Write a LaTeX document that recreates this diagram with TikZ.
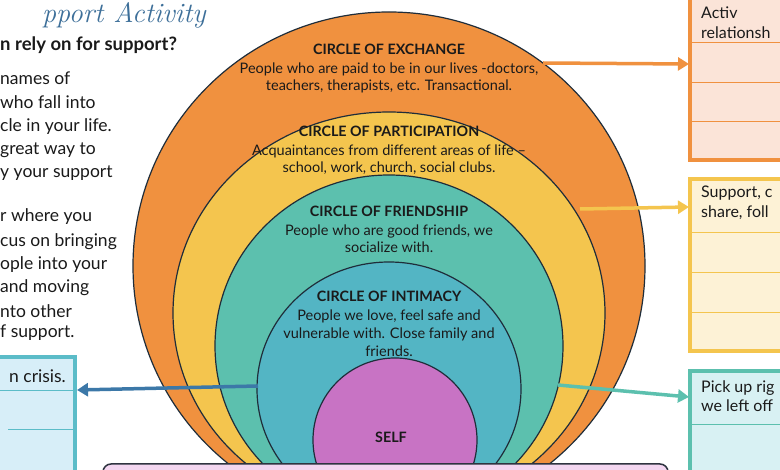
\documentclass[tikz,border=0pt]{standalone}
\usepackage{fontspec}
\setmainfont{Lato}
\newfontfamily\titlefont{Latin Modern Roman}
\usetikzlibrary{arrows.meta}
\definecolor{corange}{HTML}{F0913F}
\definecolor{cyellow}{HTML}{F4C54E}
\definecolor{cgreen}{HTML}{5CC0AE}
\definecolor{cblue}{HTML}{53B5C4}
\definecolor{cself}{HTML}{C873C4}
\definecolor{outline}{HTML}{1F2D3A}
\definecolor{barpink}{HTML}{F3D6F0}
\definecolor{bardark}{HTML}{2E3440}
\definecolor{obfill}{HTML}{FBE4D8}
\definecolor{ybfill}{HTML}{FDF2D6}
\definecolor{tbfill}{HTML}{D8F1F3}
\definecolor{lbteal}{HTML}{5BBCC8}
\definecolor{lbfill}{HTML}{D7EEF8}
\definecolor{arrblue}{HTML}{3C78A8}
\definecolor{titleblue}{HTML}{3D6F99}
\definecolor{ink}{HTML}{1A1A1A}
\tikzset{
  ring/.style={draw=outline, line width=1.2},
  ctitle/.style={font=\bfseries\fontsize{14.3}{16}\selectfont, text=ink, inner sep=0},
  cbody/.style={font=\fontsize{14.5}{17}\selectfont, text=ink, align=center, inner sep=0},
  boxtext/.style={font=\fontsize{16}{20}\selectfont, text=ink, anchor=west, inner sep=0},
  lefttext/.style={font=\fontsize{17.5}{23}\selectfont, text=ink, anchor=west, inner sep=0},
  arr/.style={line width=3.5, -{Triangle[length=11pt,width=13pt]}},
}
\begin{document}
\begin{tikzpicture}[x=1pt,y=-1pt]
\useasboundingbox (0,0) rectangle (780,470);
\fill[white] (0,0) rectangle (780,470);
\clip (0,0) rectangle (780,470);

% rings
\draw[ring, fill=corange] (389,266) ellipse [x radius=256, y radius=254];
\draw[ring, fill=cyellow] (389,313) ellipse [x radius=216, y radius=201];
\draw[ring, fill=cgreen] (389,346) ellipse [x radius=174, y radius=171];
\draw[ring, fill=cblue] (389,389) ellipse [x radius=132, y radius=127];
\draw[ring, fill=cself] (395,440) ellipse [x radius=82, y radius=82];

% bottom bar
\draw[fill=barpink, draw=bardark, line width=1.5, rounded corners=8] (103,464) rectangle (668,495);

% circle texts
\node[ctitle] (tex) at (389,49) {CIRCLE OF EXCHANGE};
\node[cbody] (bex) at (389,77.5) {People who are paid to be in our lives -doctors,\\teachers, therapists, etc. Transactional.};
\node[ctitle] (tpa) at (389,131) {CIRCLE OF PARTICIPATION};
\node[cbody] (bpa) at (389,159.5) {Acquaintances from different areas of life –\\school, work, church, social clubs.};
\node[ctitle] (tfr) at (389,211) {CIRCLE OF FRIENDSHIP};
\node[cbody] (bfr) at (389,239) {People who are good friends, we\\socialize with.};
\node[ctitle] (tin) at (389,296) {CIRCLE OF INTIMACY};
\node[cbody, font=\fontsize{14.5}{18}\selectfont] (bin) at (389,333) {People we love, feel safe and\\vulnerable with. Close family and\\friends.};
\node[ctitle] (tself) at (391,437) {SELF};

% title and left text
\node[font=\titlefont\itshape\fontsize{28}{30}\selectfont, text=titleblue, anchor=west, inner sep=0] (title) at (42,15) {pport Activity};
\node[font=\bfseries\fontsize{18.5}{20}\selectfont, text=ink, anchor=west, inner sep=0] (quest) at (0,45) {n rely on for support?};
\node[lefttext] (l1) at (0,78) {names of};
\node[lefttext] (l2) at (0,102) {who fall into};
\node[lefttext] (l3) at (0,127) {cle in your life.};
\node[lefttext] (l4) at (0,150) {great way to};
\node[lefttext] (l5) at (0,173) {y your support};
\node[lefttext] (l6) at (0,217) {r where you};
\node[lefttext] (l7) at (0,242) {cus on bringing};
\node[lefttext] (l8) at (0,265) {ople into your};
\node[lefttext] (l9) at (0,288) {and moving};
\node[lefttext] (l10) at (0,311) {nto other};
\node[lefttext] (l11) at (0,333) {f support.};

% left box
\draw[line width=4, draw=lbteal, fill=lbfill] (-10,357) rectangle (75,480);
\draw[lbteal, line width=1] (0,391) -- (73,391);
\draw[lbteal, line width=1] (8,430) -- (73,430);
\node[lefttext, anchor=east] (lbt) at (66,376) {n crisis.};

% right boxes
\draw[line width=4, draw=corange, fill=obfill] (690,-10) rectangle (790,160);
\foreach \yy in {43,83,122} \draw[corange, line width=1] (692,\yy) -- (780,\yy);
\node[boxtext] (ob1) at (701,13) {Activ};
\node[boxtext] (ob2) at (701,33) {relationsh};

\draw[line width=4, draw=cyellow, fill=ybfill] (690,179) rectangle (790,351);
\foreach \yy in {233,273,313} \draw[cyellow, line width=1] (692,\yy) -- (780,\yy);
\node[boxtext] (yb1) at (701,193) {Support, c};
\node[boxtext] (yb2) at (701,213) {share, foll};

\draw[line width=4, draw=cgreen, fill=tbfill] (690,371) rectangle (790,490);
\draw[cgreen, line width=1] (692,425) -- (780,425);
\node[boxtext] (tb1) at (701,388) {Pick up rig};
\node[boxtext] (tb2) at (701,406) {we left off};

% arrows
\coordinate (oas) at (543,63);
\coordinate (oae) at (689,64);
\coordinate (yas) at (580,209);
\coordinate (yae) at (689,207);
\coordinate (tas) at (558,385);
\coordinate (tae) at (689,397);
\coordinate (bas) at (258,386);
\coordinate (bae) at (77,390);
\draw[arr, corange] (oas) -- (oae);
\draw[arr, cyellow] (yas) -- (yae);
\draw[arr, cgreen] (tas) -- (tae);
\draw[arr, arrblue] (bas) -- (bae);
\end{tikzpicture}
\end{document}
